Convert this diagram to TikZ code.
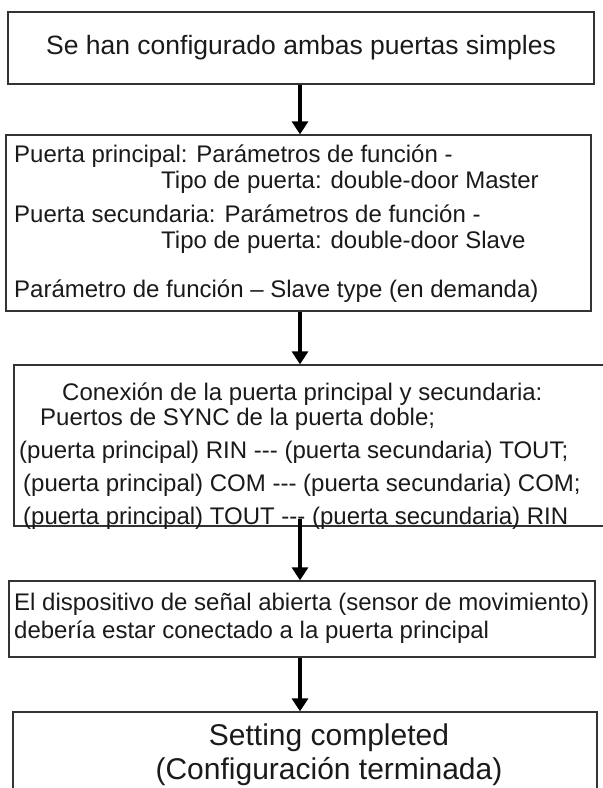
\documentclass[tikz,border=0pt]{standalone}
\usepackage{fontspec}
\setmainfont{Liberation Sans}
\usetikzlibrary{arrows.meta,positioning}
\definecolor{lineaGris}{HTML}{333333}
\definecolor{textoGris}{HTML}{1A1A1A}
\newcommand{\guiones}{\mbox{-}\mbox{-}\mbox{-}}

\begin{document}
\begin{tikzpicture}[x=1pt, y=-1pt,
      paso/.style={draw=lineaGris, line width=1.3pt, inner sep=0pt, text=textoGris},
      linea/.style={anchor=base west, inner sep=0pt, text=textoGris,
                    font=\fontsize{24}{28}\selectfont},
      fin/.style={anchor=base, inner sep=0pt, text=textoGris,
                  font=\fontsize{30}{34}\selectfont},
      flecha/.style={line width=4.3pt, -{Triangle[width=16pt,length=13pt]}}]
    \clip (0,0) rectangle (603,788);
    % cajas
    \node[paso, minimum width=586pt, minimum height=72pt,
          font=\fontsize{26.5}{30}\selectfont] (conf) at (301,48)
          {Se han configurado ambas puertas simples};
    \node[paso, minimum width=585pt, minimum height=176pt] (param) at (298.5,223) {};
    \node[paso, minimum width=596pt, minimum height=161pt] (sync) at (312,445.5) {};
    \node[paso, minimum width=586pt, minimum height=76pt] (sensor) at (302,619) {};
    \node[paso, minimum width=584pt, minimum height=88pt] (listo) at (305,756) {};
    % textos
    \node[linea] (pp)  at (14,162)  {Puerta principal: Parámetros de función -};
    \node[linea] (ppt) at (161,188) {Tipo de puerta: double-door Master};
    \node[linea] (ps)  at (14,222)  {Puerta secundaria: Parámetros de función -};
    \node[linea] (pst) at (161,248) {Tipo de puerta: double-door Slave};
    \node[linea] (st)  at (14,297)  {Parámetro de función – Slave type (en demanda)};
    \node[linea] (cx1) at (62,400)  {Conexión de la puerta principal y secundaria:};
    \node[linea] (cx2) at (40,425)  {Puertos de SYNC de la puerta doble;};
    \node[linea] (cx3) at (19,458)  {(puerta principal) RIN \guiones{} (puerta secundaria) TOUT;};
    \node[linea] (cx4) at (23,491)  {(puerta principal) COM \guiones{} (puerta secundaria) COM;};
    \node[linea] (cx5) at (23,524)  {(puerta principal) TOUT \guiones{} (puerta secundaria) RIN};
    \node[linea] (se1) at (14,610)  {El dispositivo de señal abierta (sensor de movimiento)};
    \node[linea] (se2) at (14,638)  {debería estar conectado a la puerta principal};
    \node[fin] (ok1) at (329,745) {Setting completed};
    \node[fin] (ok2) at (329,779) {(Configuración terminada)};
    % flechas
    \coordinate (eje) at (300,0);
    \draw[flecha] (eje |- conf.south) -- (eje |- param.north);
    \draw[flecha] (eje |- param.south) -- (eje |- sync.north);
    \draw[flecha] ([yshift=8pt]eje |- sync.south) -- (eje |- sensor.north);
    \draw[flecha] (eje |- sensor.south) -- (eje |- listo.north);
  \end{tikzpicture}
\end{document}
